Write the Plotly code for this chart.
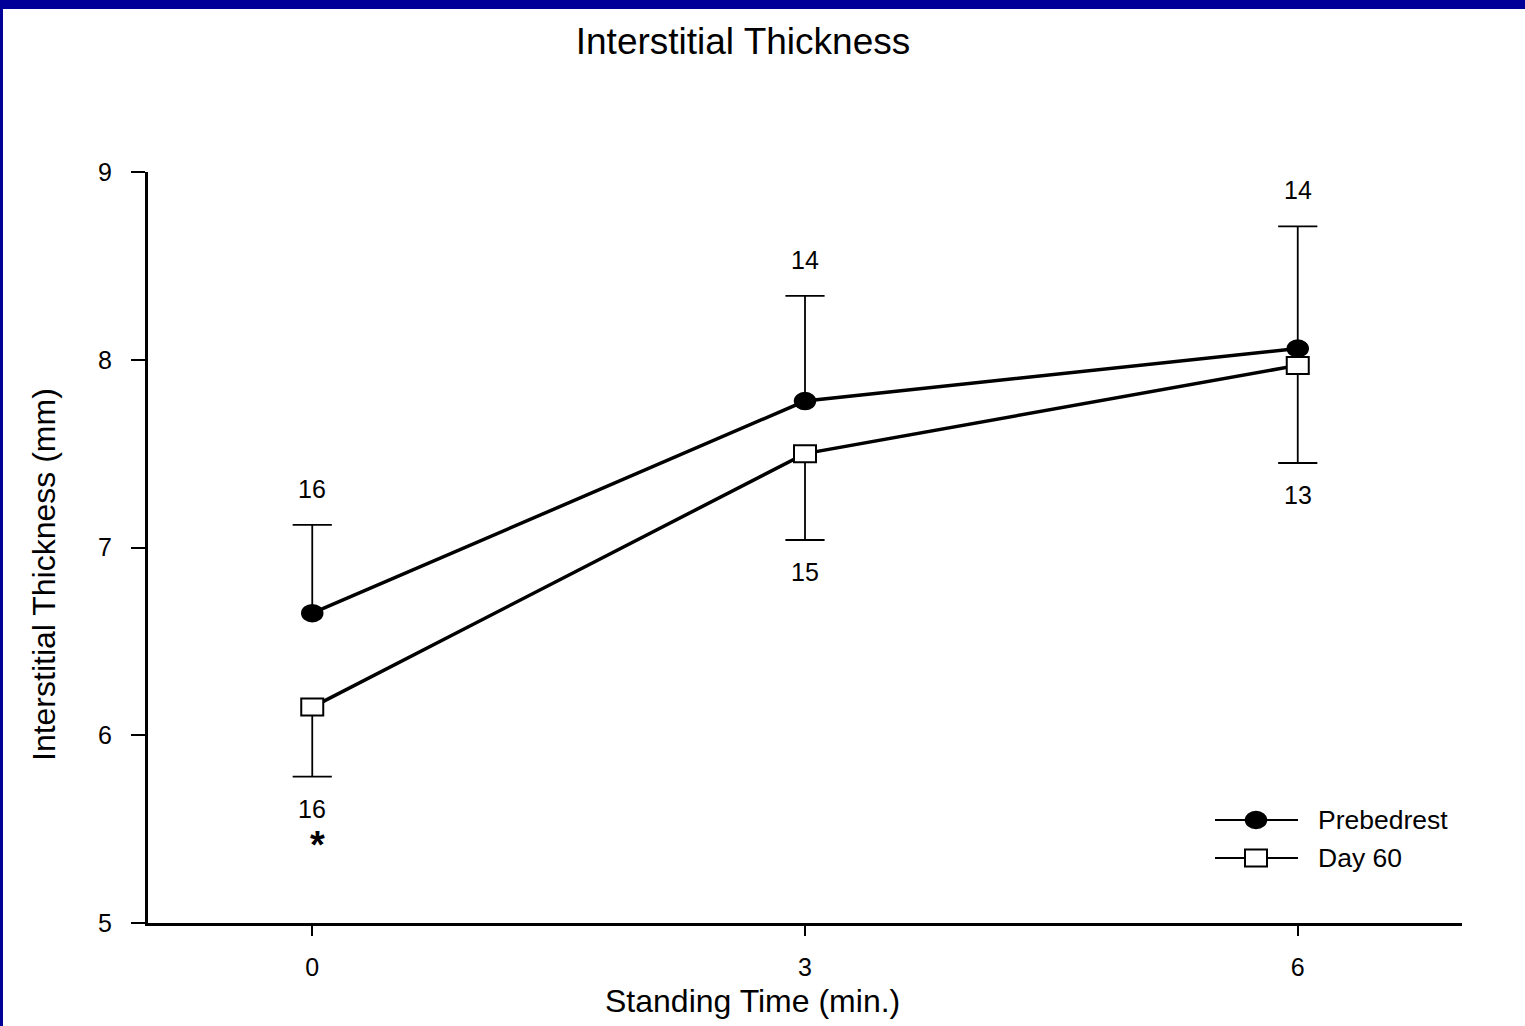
import plotly.graph_objects as go

# Standing time points (min)
time_min = [0, 3, 6]
x_ticks = [0, 3, 6]
y_ticks = [5, 6, 7, 8, 9]

# Prebedrest: mean interstitial thickness, SE and subject counts
pre_mean = [6.65, 7.78, 8.06]
pre_se = [0.47, 0.56, 0.65]
pre_n = [16, 14, 14]

# Day 60 of bed rest
day60_mean = [6.15, 7.50, 7.97]
day60_se = [0.37, 0.46, 0.52]
day60_n = [16, 15, 13]

# Time points with a significant difference between conditions
sig_time = [0]

series_names = ["Prebedrest", "Day 60"]

# Page / plot geometry (pixels)
W, H = 1525, 1026
ML, MR, MT, MB = 148, 63, 172, 103
PW, PH = W - ML - MR, H - MT - MB
FONT = "Liberation Sans, Arial, Helvetica, sans-serif"
BLUE = "#000099"


def px_x(p):
    return (p - ML) / PW


def px_y(p):
    return 1 - (p - MT) / PH


def one_sided_bars(xs, means, errs, sign):
    sx, sy, cx, cy = [], [], [], []
    for x, m, e in zip(xs, means, errs):
        end = m + sign * e
        sx += [x, x, None]
        sy += [m, end, None]
        cx.append(x)
        cy.append(end)
    return sx, sy, cx, cy


def dot(xref, yref, x, y, filled, **pos):
    # ellipse for the filled series, box for the open series
    base = dict(xref=xref, yref=yref, layer="above",
                line=dict(color="black", width=1.5 if filled else 2))
    if filled:
        base.update(type="circle", fillcolor="black")
        w, h = 21, 17
    else:
        base.update(type="rect", fillcolor="white")
        w, h = 22, 17
    if xref == "x":
        base.update(xsizemode="pixel", ysizemode="pixel", xanchor=x, yanchor=y,
                    x0=-w / 2, x1=w / 2, y0=-h / 2, y1=h / 2)
    else:
        base.update(x0=px_x(x - w / 2), x1=px_x(x + w / 2),
                    y0=px_y(y + h / 2), y1=px_y(y - h / 2))
    return base


fig = go.Figure()

# Error bars: upward for prebedrest, downward for day 60
for means, errs, sign in [(pre_mean, pre_se, 1), (day60_mean, day60_se, -1)]:
    sx, sy, cx, cy = one_sided_bars(time_min, means, errs, sign)
    fig.add_trace(go.Scatter(x=sx, y=sy, mode="lines", showlegend=False,
                             line=dict(color="black", width=1.8), hoverinfo="skip"))
    fig.add_trace(go.Scatter(x=cx, y=cy, mode="markers", showlegend=False,
                             marker=dict(symbol="line-ew", size=28,
                                         line=dict(color="black", width=1.8)),
                             hoverinfo="skip"))

for name, means in zip(series_names, [pre_mean, day60_mean]):
    fig.add_trace(go.Scatter(x=time_min, y=means, mode="lines", name=name,
                             showlegend=False, line=dict(color="black", width=3.5)))

shapes = []
# Point symbols
for x, y in zip(time_min, pre_mean):
    shapes.append(dot("x", "y", x, y, True))
for x, y in zip(time_min, day60_mean):
    shapes.append(dot("x", "y", x, y, False))

annotations = []
# Subject counts above / below the error bars
for x, m, e, n in zip(time_min, pre_mean, pre_se, pre_n):
    annotations.append(dict(x=x, y=m + e, text=str(n), showarrow=False,
                            yshift=36, font=dict(size=25, color="black", family=FONT)))
for x, m, e, n in zip(time_min, day60_mean, day60_se, day60_n):
    annotations.append(dict(x=x, y=m - e, text=str(n), showarrow=False,
                            yshift=-32, font=dict(size=25, color="black", family=FONT)))
# Significance marker
for x in sig_time:
    i = time_min.index(x)
    annotations.append(dict(x=x, y=day60_mean[i] - day60_se[i], text="<b>*</b>",
                            showarrow=False, xshift=5, yshift=-68,
                            font=dict(size=38, color="black", family=FONT)))

# Axis titles
annotations.append(dict(xref="paper", yref="paper", x=px_x(752), y=px_y(1001),
                        text="Standing Time (min.)", showarrow=False,
                        xanchor="center", yanchor="middle",
                        font=dict(size=32, color="black", family=FONT)))
annotations.append(dict(xref="paper", yref="paper", x=px_x(44), y=px_y(575),
                        text="Interstitial Thickness (mm)", showarrow=False,
                        textangle=-90, xanchor="center", yanchor="middle",
                        font=dict(size=32, color="black", family=FONT)))

# Legend key drawn in page pixels
leg_rows = [820, 858]
for (name, filled), yrow in zip([(series_names[0], True), (series_names[1], False)], leg_rows):
    shapes.append(dict(type="line", xref="paper", yref="paper", layer="above",
                       x0=px_x(1215), x1=px_x(1298), y0=px_y(yrow), y1=px_y(yrow),
                       line=dict(color="black", width=2)))
    shapes.append(dot("paper", "paper", 1256, yrow, filled))
    annotations.append(dict(xref="paper", yref="paper", x=px_x(1316), y=px_y(yrow),
                            text=name, showarrow=False, xanchor="left", yanchor="middle",
                            font=dict(size=26.5, color="black", family=FONT)))

# Blue frame strips along the top and left edges
shapes += [
    dict(type="rect", xref="paper", yref="paper", layer="above",
         x0=px_x(0), x1=px_x(W), y0=px_y(9), y1=px_y(0),
         fillcolor=BLUE, line=dict(width=0)),
    dict(type="rect", xref="paper", yref="paper", layer="above",
         x0=px_x(0), x1=px_x(3), y0=px_y(H), y1=px_y(0),
         fillcolor=BLUE, line=dict(width=0)),
]

fig.update_layout(
    width=W, height=H,
    margin=dict(l=ML, r=MR, t=MT, b=MB, autoexpand=False),
    paper_bgcolor="white", plot_bgcolor="white",
    font=dict(family=FONT, color="black"),
    title=dict(text="Interstitial Thickness", xref="container", x=743 / W,
               xanchor="center", yref="container", y=1 - 41 / H, yanchor="middle",
               font=dict(size=37, color="black", family=FONT)),
    xaxis=dict(range=[-1, 7], tickvals=x_ticks, ticks="outside", ticklen=10,
               tickwidth=1.5, tickcolor="black", showline=True, linewidth=3,
               linecolor="black", showgrid=False, zeroline=False,
               ticklabelstandoff=10,
               tickfont=dict(size=25, color="black", family=FONT)),
    yaxis=dict(range=[5, 9], tickvals=y_ticks, ticks="outside", ticklen=14,
               tickwidth=1.5, tickcolor="black", showline=True, linewidth=3,
               linecolor="black", showgrid=False, zeroline=False,
               ticklabelstandoff=14,
               tickfont=dict(size=25, color="black", family=FONT)),
    annotations=annotations,
    shapes=shapes,
    showlegend=False,
)

fig.write_html("out.html")
